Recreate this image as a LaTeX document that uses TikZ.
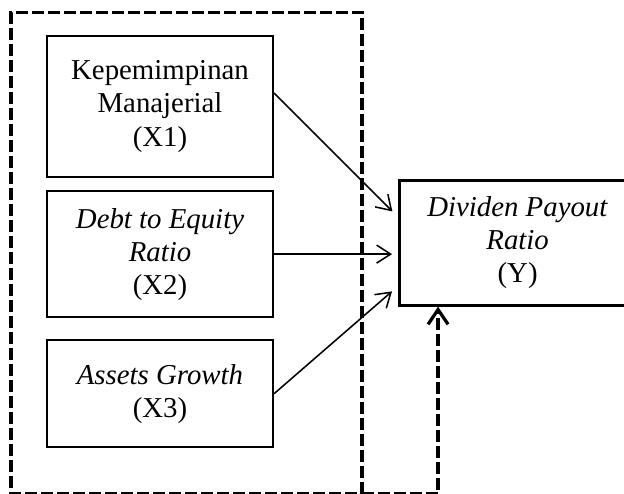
\documentclass[tikz,border=0pt]{standalone}
\usepackage{fontspec}
\setmainfont{Liberation Serif}
\usepackage{tikz}
\usetikzlibrary{positioning,calc,arrows.meta}

\begin{document}
\begin{tikzpicture}[
    node distance=0.3cm and 3.15cm,
    varbox/.style={rectangle, minimum width=5.65cm, text centered, align=center, draw=black, line width=1.5pt, inner sep=2pt, font=\fontsize{20.5pt}{23.5pt}\selectfont},
    depbox/.style={varbox, minimum width=5.9cm, minimum height=3.125cm, line width=2.2pt},
    arrow/.style={-{Straight Barb[length=3.5mm, width=4.5mm]}, line width=1.1pt},
    frameline/.style={line width=2.3pt, dash pattern=on 0.29cm off 0.11cm},
    feedback/.style={frameline, -{Straight Barb[length=3.7mm, width=5mm, line width=2.3pt]}},
]
\useasboundingbox (0,0) rectangle (15.6,-12.325);

% Independent variables
\node (x1) [varbox, minimum height=3.525cm] at (4.0,-2.6625) {Kepemimpinan\\ Manajerial\\ (X1)};
\node (x2) [varbox, minimum height=3.15cm, below=0.3cm of x1] {\textit{Debt to Equity}\\ \textit{Ratio}\\ (X2)};
\node (x3) [varbox, minimum height=2.675cm, below=0.525cm of x2] {\textit{Assets Growth}\\ (X3)};

% Dependent variable
\node (y) [depbox, right=3.1cm of x2, yshift=0.2875cm] {\textit{Dividen Payout}\\ \textit{Ratio}\\ (Y)};

% Arrows
\draw[arrow, shorten >=0.2cm] ([yshift=0.3375cm]x1.east) -- ([yshift=0.6375cm]y.west);
\draw[arrow, shorten >=0.15cm] (x2.east) -- (x2.east -| y.west);
\draw[arrow, shorten >=0.2cm] (x3.east) -- ([yshift=-1.0875cm]y.west);

% Dashed frame round X1--X3
\coordinate (fnw) at (0.275,-0.3125);
\coordinate (fse) at (9.05,-12.35);
\draw[frameline] (fse) -- (fse |- fnw) -- (fnw) -- (fnw |- fse) -- cycle;

% Simultaneous effect
\draw[feedback] (fse) -| ([xshift=1.0cm]y.south west);

\end{tikzpicture}
\end{document}
